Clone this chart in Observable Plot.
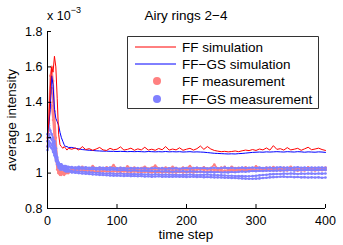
<!DOCTYPE html>
<html><head><meta charset="utf-8">
<script src="https://cdn.jsdelivr.net/npm/d3@7"></script>
<script src="https://cdn.jsdelivr.net/npm/@observablehq/plot@0.6"></script>
<style>body{margin:0;background:#fff}</style>
</head><body><div id="chart"></div>
<script>
// time steps sampled: 0..30 every 2, then 35..400 every 5
const timeSteps = d3.range(0, 31, 2).concat(d3.range(35, 401, 5));
const yTicks = [0.8, 1, 1.2, 1.4, 1.6, 1.8];
const xTicks = [0, 100, 200, 300, 400];

// values in units of 1e-3
const ffSim = [1.20,1.30,1.48,1.60,1.57,1.66,1.60,1.42,1.22,1.16,1.15,1.14,1.15,1.14,1.13,1.14,
 1.135,1.142,1.130,1.150,1.133,1.138,1.129,1.136,1.145,1.131,
 1.128,1.140,1.132,1.135,1.148,1.130,1.134,1.141,1.129,1.137,
 1.131,1.146,1.130,1.135,1.129,1.139,1.132,1.150,1.130,1.136,
 1.131,1.143,1.129,1.135,1.140,1.130,1.138,1.153,1.134,1.150,
 1.136,1.128,1.124,1.121,1.123,1.120,1.122,1.125,1.121,1.126,
 1.130,1.127,1.133,1.128,1.136,1.131,1.142,1.130,1.155,1.134,
 1.138,1.130,1.144,1.131,1.135,1.140,1.129,1.137,1.146,1.132,
 1.136,1.141,1.133,1.128];
const gsSim = [1.24,1.28,1.36,1.55,1.50,1.36,1.31,1.29,1.27,1.23,1.20,1.18,1.16,1.15,1.15,1.145,
 1.145,1.140,1.137,1.133,1.131,1.129,1.128,1.126,1.125,1.124,
 1.124,1.123,1.123,1.122,1.123,1.122,1.121,1.122,1.121,1.122,
 1.121,1.120,1.122,1.121,1.120,1.121,1.120,1.122,1.120,1.121,
 1.120,1.121,1.119,1.120,1.121,1.119,1.120,1.119,1.118,1.116,
 1.114,1.112,1.111,1.110,1.109,1.108,1.109,1.108,1.110,1.111,
 1.113,1.115,1.117,1.118,1.119,1.118,1.120,1.119,1.120,1.121,
 1.120,1.119,1.121,1.120,1.119,1.121,1.120,1.118,1.120,1.119,
 1.118,1.120,1.119,1.117];

const ffMeas1 = [1.18,1.35,1.55,1.60,1.52,1.35,1.20,1.08,1.03,1.01,1.00,1.00,1.01,1.00,1.01,1.01,
 1.025,1.030,1.022,1.035,1.028,1.024,1.040,1.026,1.030,1.022,
 1.033,1.027,1.045,1.025,1.030,1.024,1.038,1.026,1.031,1.023,
 1.029,1.036,1.025,1.030,1.042,1.027,1.024,1.032,1.026,1.035,
 1.028,1.023,1.031,1.027,1.040,1.025,1.030,1.024,1.033,1.026,
 1.029,1.048,1.025,1.031,1.027,1.024,1.036,1.028,1.030,1.025,
 1.033,1.027,1.024,1.038,1.029,1.026,1.031,1.025,1.034,1.028,
 1.026,1.032,1.027,1.036,1.025,1.030,1.028,1.024,1.033,1.027,
 1.030,1.026,1.029,1.031];
const ffMeas2 = [1.15,1.28,1.45,1.48,1.40,1.25,1.12,1.04,1.00,0.99,0.99,1.00,0.99,1.00,1.00,1.00,
 1.012,1.015,1.010,1.014,1.011,1.013,1.010,1.012,1.009,1.011,
 1.010,1.008,1.011,1.009,1.007,1.010,1.008,1.006,1.009,1.007,
 1.005,1.008,1.006,1.004,1.007,1.005,1.003,1.006,1.004,1.005,
 1.003,1.006,1.004,1.005,1.007,1.004,1.006,1.008,1.006,1.009,
 1.011,1.009,1.012,1.010,1.013,1.011,1.014,1.012,1.015,1.013,
 1.016,1.014,1.017,1.015,1.013,1.016,1.014,1.017,1.015,1.016,
 1.014,1.017,1.015,1.018,1.016,1.014,1.017,1.015,1.018,1.016,
 1.015,1.017,1.016,1.018];
const ffMeas3 = [1.20,1.30,1.40,1.38,1.30,1.18,1.08,1.02,1.00,1.00,1.01,1.00,1.01,1.01,1.02,1.01,
 1.018,1.022,1.020,1.025,1.019,1.021,1.017,1.023,1.020,1.018,
 1.022,1.019,1.024,1.020,1.017,1.021,1.019,1.023,1.018,1.020,
 1.016,1.020,1.018,1.022,1.019,1.017,1.021,1.018,1.020,1.016,
 1.019,1.017,1.021,1.018,1.020,1.017,1.019,1.022,1.018,1.020,
 1.023,1.019,1.021,1.018,1.035,1.020,1.022,1.019,1.024,1.021,
 1.019,1.023,1.020,1.022,1.025,1.021,1.023,1.020,1.024,1.022,
 1.020,1.024,1.021,1.025,1.022,1.020,1.026,1.023,1.021,1.024,
 1.022,1.025,1.023,1.024];

const gsMeas1 = [1.22,1.27,1.24,1.22,1.20,1.18,1.14,1.09,1.06,1.05,1.05,1.04,1.04,1.04,1.035,1.035,
 1.034,1.032,1.035,1.031,1.033,1.030,1.032,1.029,1.031,1.030,
 1.028,1.031,1.029,1.027,1.030,1.028,1.026,1.029,1.027,1.028,
 1.026,1.028,1.025,1.027,1.029,1.026,1.028,1.025,1.027,1.026,
 1.028,1.025,1.027,1.029,1.026,1.028,1.030,1.027,1.029,1.026,
 1.028,1.030,1.027,1.029,1.031,1.028,1.030,1.027,1.029,1.031,
 1.028,1.030,1.032,1.029,1.031,1.028,1.030,1.032,1.029,1.031,
 1.033,1.030,1.032,1.029,1.031,1.033,1.030,1.032,1.029,1.031,
 1.030,1.032,1.031,1.030];
const gsMeas2 = [1.18,1.22,1.20,1.19,1.17,1.15,1.11,1.07,1.05,1.04,1.04,1.035,1.03,1.03,1.03,1.03,
 1.027,1.025,1.024,1.026,1.023,1.022,1.024,1.021,1.020,1.022,
 1.019,1.018,1.020,1.017,1.016,1.018,1.015,1.014,1.016,1.013,
 1.012,1.014,1.011,1.012,1.010,1.012,1.009,1.011,1.010,1.008,
 1.010,1.009,1.011,1.008,1.010,1.009,1.007,1.009,1.006,1.005,
 1.007,1.004,1.006,1.003,1.005,1.004,1.006,1.005,1.007,1.009,
 1.008,1.010,1.012,1.011,1.013,1.012,1.014,1.013,1.015,1.014,
 1.016,1.015,1.017,1.016,1.015,1.017,1.016,1.018,1.017,1.016,
 1.018,1.017,1.019,1.018];
const gsMeas3 = [1.15,1.18,1.17,1.16,1.15,1.12,1.09,1.06,1.04,1.03,1.03,1.03,1.02,1.02,1.02,1.02,
 1.012,1.010,1.009,1.008,1.006,1.005,1.003,1.002,1.001,0.999,
 0.998,0.999,0.997,0.996,0.998,0.995,0.996,0.994,0.995,0.993,
 0.994,0.992,0.993,0.991,0.993,0.992,0.990,0.992,0.991,0.990,
 0.991,0.989,0.991,0.990,0.992,0.990,0.989,0.991,0.990,0.992,
 0.990,0.989,0.988,0.987,0.986,0.985,0.985,0.984,0.983,0.983,
 0.982,0.982,0.983,0.985,0.987,0.989,0.991,0.993,0.994,0.995,
 0.995,0.997,0.996,0.998,0.997,0.995,0.997,0.996,0.998,0.997,
 0.996,0.998,0.997,0.998];
const gsMeas4 = [1.13,1.16,1.15,1.14,1.12,1.10,1.07,1.05,1.03,1.02,1.02,1.02,1.015,1.01,1.01,1.01,
 1.004,1.002,1.000,0.998,0.997,0.995,0.993,0.992,0.990,0.989,
 0.988,0.987,0.986,0.987,0.985,0.984,0.985,0.983,0.984,0.982,
 0.983,0.981,0.982,0.980,0.981,0.982,0.980,0.981,0.979,0.980,
 0.981,0.979,0.980,0.978,0.979,0.980,0.978,0.979,0.977,0.978,
 0.977,0.976,0.976,0.975,0.974,0.974,0.973,0.972,0.971,0.970,
 0.969,0.968,0.968,0.969,0.970,0.972,0.974,0.976,0.977,0.978,
 0.979,0.980,0.978,0.979,0.977,0.978,0.976,0.977,0.975,0.976,
 0.975,0.976,0.974,0.975];

const RED = "#ff0000", BLUE = "#0000ff", LRED = "#ff8080", LBLUE = "#8080ff";

function rows(vals, series) { return vals.map((v, i) => ({t: timeSteps[i], v, series})); }
const measRed = [ffMeas1, ffMeas2, ffMeas3].flatMap((a, k) => rows(a, "r" + k));
const measBlue = [gsMeas1, gsMeas2, gsMeas3, gsMeas4].flatMap((a, k) => rows(a, "b" + k));
const simRed = rows(ffSim, "FF");
const simBlue = rows(gsSim, "GS");

const W = 343, H = 245;
const plot = Plot.plot({
  width: W, height: H,
  marginLeft: 47, marginRight: 18, marginTop: 31, marginBottom: 37,
  style: {fontFamily: "'Liberation Sans', Arial, sans-serif", fontSize: "12px", background: "#fff", color: "#000"},
  x: {domain: [0, 400]},
  y: {domain: [0.8, 1.8]},
  marks: [
    Plot.line(measRed, {x: "t", y: "v", z: "series", stroke: LRED, strokeWidth: 1.6}),
    Plot.dot(measRed, {x: "t", y: "v", fill: LRED, r: 1.3}),
    Plot.line(measBlue, {x: "t", y: "v", z: "series", stroke: LBLUE, strokeWidth: 1.6}),
    Plot.dot(measBlue, {x: "t", y: "v", fill: LBLUE, r: 1.3}),
    Plot.line(simBlue, {x: "t", y: "v", stroke: BLUE, strokeWidth: 1}),
    Plot.line(simRed, {x: "t", y: "v", stroke: RED, strokeWidth: 1}),
    Plot.ruleX([0], {stroke: "#000"}),
    Plot.ruleY([0.8], {stroke: "#000"}),
    Plot.axisY({ticks: yTicks, tickSize: 0, tickPadding: 5, tickFormat: d => String(+d.toFixed(1)), fontSize: 12.5, label: null}),
    Plot.axisY({ticks: yTicks, tickSize: 4, dx: 4, text: null, label: null}),
    Plot.axisX({ticks: xTicks, tickSize: 0, tickPadding: 8, tickFormat: d => String(d), fontSize: 12.5, label: null}),
    Plot.axisX({ticks: xTicks, tickSize: 4, dy: -4, text: null, label: null})
  ]
});
document.getElementById("chart").appendChild(plot);

const svg = d3.select(plot);
const font = "'Liberation Sans', Arial, sans-serif";
const FS = 13.5;
svg.append("text").attr("x", 186).attr("y", 19.5).attr("text-anchor", "middle")
  .attr("font-family", font).attr("font-size", FS).text("Airy rings 2\u22124");
svg.append("text").attr("x", 186).attr("y", 239).attr("text-anchor", "middle")
  .attr("font-family", font).attr("font-size", FS).text("time step");
svg.append("text").attr("transform", "translate(16,120) rotate(-90)").attr("text-anchor", "middle")
  .attr("font-family", font).attr("font-size", FS).text("average intensity");
const mult = svg.append("text").attr("x", 47).attr("y", 20).attr("text-anchor", "start")
  .attr("font-family", font).attr("font-size", 12.5);
mult.append("tspan").text("x 10");
mult.append("tspan").attr("dy", -7).attr("font-size", 9).text("\u22123");

// legend
const lg = svg.append("g").attr("font-family", font).attr("font-size", FS).attr("text-anchor", "start");
lg.append("path").attr("d", "M127.5,36.5H318.5V108.5H127.5Z")
  .style("fill", "#ffffff").style("stroke", "#333333").style("stroke-width", "1px");
const items = [
  {label: "FF simulation", type: "line", color: RED, y: 47},
  {label: "FF\u2212GS simulation", type: "line", color: BLUE, y: 64},
  {label: "FF measurement", type: "dot", color: LRED, y: 81},
  {label: "FF\u2212GS measurement", type: "dot", color: LBLUE, y: 99}
];
for (const it of items) {
  if (it.type === "line") lg.append("line").attr("x1", 135).attr("x2", 176).attr("y1", it.y).attr("y2", it.y).style("stroke", it.color).style("stroke-width", "1px");
  else lg.append("circle").attr("cx", 157).attr("cy", it.y).attr("r", 4).style("fill", it.color);
  lg.append("text").attr("x", 182).attr("y", it.y + 5).style("fill", "#000").text(it.label);
}
</script></body></html>
